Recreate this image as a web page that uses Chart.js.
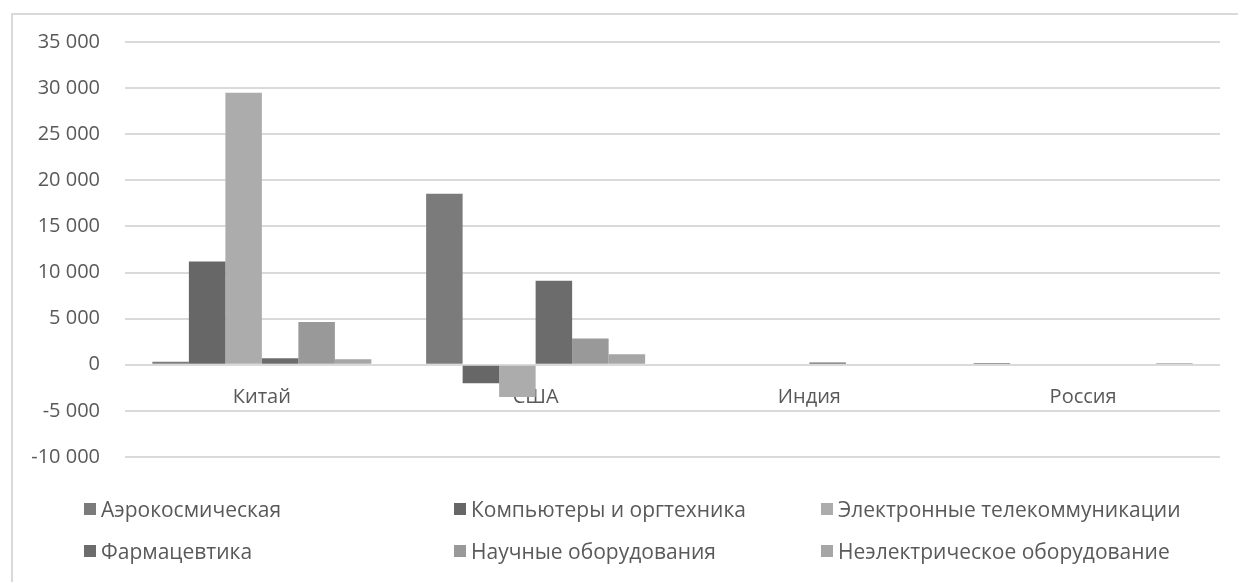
<!DOCTYPE html>
<html lang="ru">
<head>
<meta charset="utf-8">
<title>Сальдо торговли высокотехнологичной продукцией</title>
<script src="https://cdn.jsdelivr.net/npm/chart.js@4.4.1/dist/chart.umd.min.js"></script>
<style>
  html, body { margin: 0; padding: 0; background: #ffffff; }
  #wrap { position: relative; width: 1238px; height: 582px; overflow: hidden; }
  #frame { position: absolute; left: 11px; top: 13px; width: 1300px; height: 700px;
           border-left: 2px solid #d9d9d9; border-top: 2px solid #d9d9d9; box-sizing: border-box; }
  canvas { position: absolute; left: 0; top: 0; }
  #legend { position: absolute; left: 0; top: 0; width: 1238px; height: 582px; pointer-events: none;
            font-family: "Open Sans", sans-serif; font-size: 21px; color: #595959; }
  .item { position: absolute; display: flex; align-items: center; white-space: nowrap; line-height: 1; }
  .item i { display: inline-block; width: 12px; height: 12px; margin-right: 5px; }
</style>
</head>
<body>
<div id="wrap">
  <div id="frame"></div>
  <canvas id="chart" width="1238" height="582"></canvas>
  <div id="legend"></div>
</div>
<script>
// Countries on the category axis
const countries = ['Китай', 'США', 'Индия', 'Россия'];

// Balance by industry, one value per country
const aerospace   = [330, 18550, 0, 200];
const computers   = [11200, -2000, 0, 0];
const electronics = [29500, -3500, 0, 0];
const pharma      = [700, 9100, 250, 0];
const scientific  = [4650, 2850, 0, 0];
const nonElectric = [590, 1150, 0, 200];

const seriesNames = [
  'Аэрокосмическая',
  'Компьютеры и оргтехника',
  'Электронные телекоммуникации',
  'Фармацевтика',
  'Научные оборудования',
  'Неэлектрическое оборудование'
];
const seriesValues = [aerospace, computers, electronics, pharma, scientific, nonElectric];
const seriesColors = ['#7b7b7b', '#676767', '#acacac', '#6c6c6c', '#999999', '#a6a6a6'];

// Value axis range and step
const yMin = -10000;
const yMax = 35000;
const yStep = 5000;

const fmt = v => {
  const s = Math.abs(v).toString().replace(/\B(?=(\d{3})+(?!\d))/g, '\u00a0');
  return (v < 0 ? '-' : '') + s;
};

const textColor = '#595959';
const font = { family: '"Open Sans", sans-serif', size: 20 };

new Chart(document.getElementById('chart'), {
  type: 'bar',
  data: {
    labels: countries,
    datasets: seriesNames.map((name, i) => ({
      label: name,
      data: seriesValues[i],
      backgroundColor: seriesColors[i],
      borderWidth: 0,
      categoryPercentage: 0.8,
      barPercentage: 1.0
    }))
  },
  options: {
    responsive: false,
    animation: false,
    layout: { padding: { left: 12, right: 18, top: 42, bottom: 125 } },
    plugins: { legend: { display: false }, tooltip: { enabled: false } },
    scales: {
      x: {
        position: { y: 0 },
        grid: { display: false },
        border: { display: false },
        ticks: { color: textColor, font: font, padding: 13, maxRotation: 0 },
        afterFit: s => { s.height = 0; s.paddingLeft = 0; s.paddingRight = 0; }
      },
      y: {
        min: yMin,
        max: yMax,
        grid: { color: '#dadada', lineWidth: 2, drawTicks: false },
        border: { display: false },
        ticks: { stepSize: yStep, color: textColor, font: font, padding: 25, callback: v => fmt(v) },
        afterFit: s => { s.width = 113; s.paddingTop = 0; s.paddingBottom = 0; }
      }
    }
  }
});

// Legend: three columns, two rows
const legendCols = [84, 454, 821];
const legendRows = [509, 551];
const legend = document.getElementById('legend');
seriesNames.forEach((name, i) => {
  const el = document.createElement('div');
  el.className = 'item';
  el.style.left = legendCols[i % 3] + 'px';
  el.style.top = (legendRows[Math.floor(i / 3)] - 10) + 'px';
  el.style.height = '20px';
  el.innerHTML = '<i style="background:' + seriesColors[i] + '"></i><span>' + name + '</span>';
  legend.appendChild(el);
});
</script>
</body>
</html>
